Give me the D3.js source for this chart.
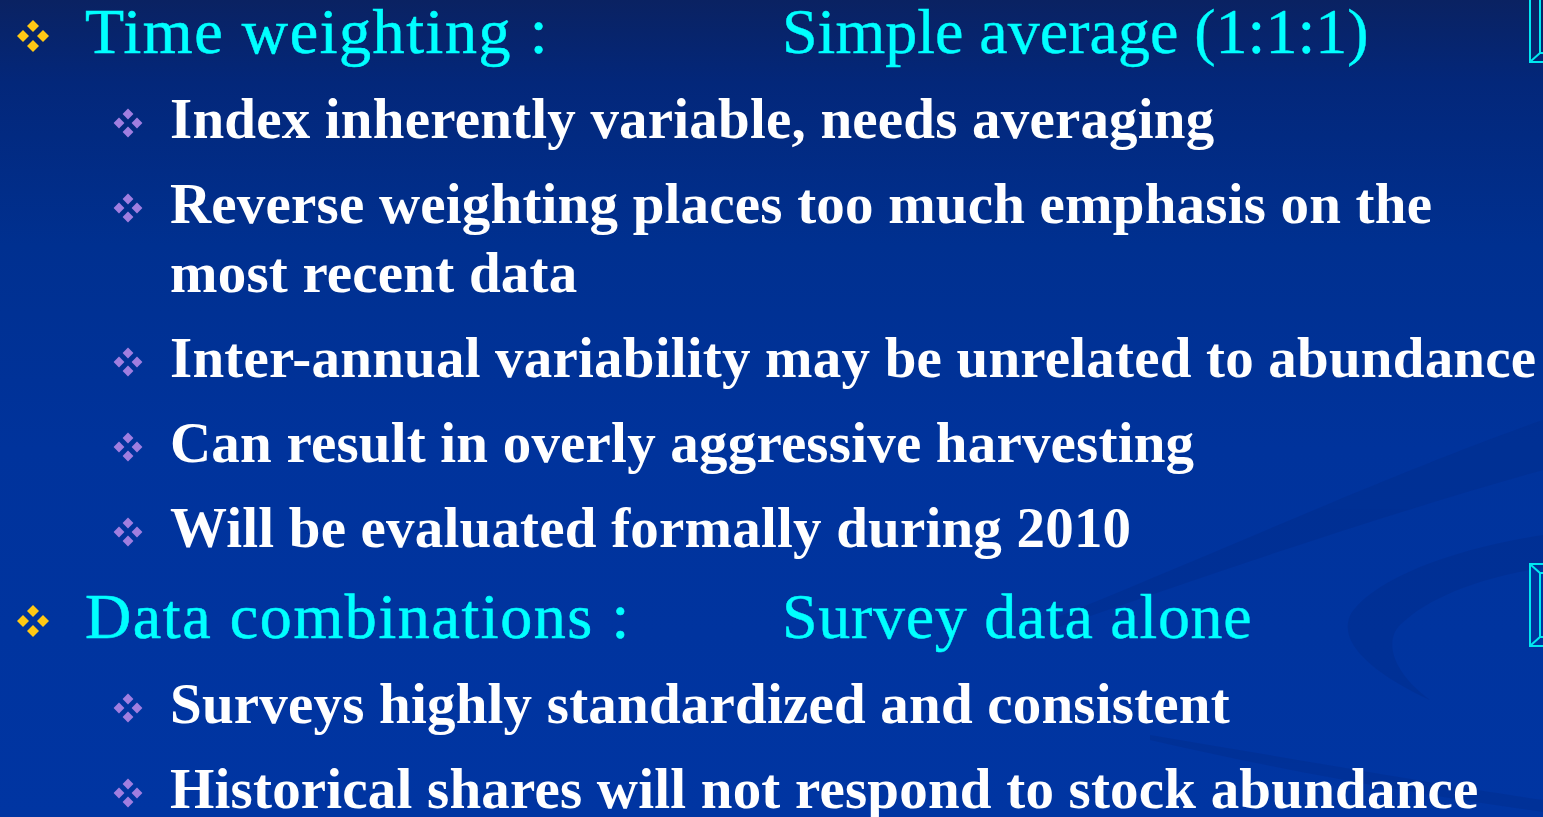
<!DOCTYPE html>
<html><head><meta charset="utf-8">
<script src="https://cdn.jsdelivr.net/npm/d3@7"></script>
<style>html,body{margin:0;padding:0;background:#0033a0;overflow:hidden}</style>
</head><body>
<script>
// ---- content ----
const levels = [1, 2, 2, 0, 2, 2, 2, 1, 2, 2];          // 0 = continuation line
const lineTexts = [
  "Time weighting :",
  "Index inherently variable, needs averaging",
  "Reverse weighting places too much emphasis on the",
  "most recent data",
  "Inter-annual variability may be unrelated to abundance",
  "Can result in overly aggressive harvesting",
  "Will be evaluated formally during 2010",
  "Data combinations :",
  "Surveys highly standardized and consistent",
  "Historical shares will not respond to stock abundance"
];
const headingValues = ["Simple average (1:1:1)", "", "", "", "", "", "", "Survey data alone", "", ""];

const W = 1543, H = 817;
const svg = d3.select("body").append("svg").attr("width", W).attr("height", H);
const defs = svg.append("defs");
const grad = defs.append("linearGradient").attr("id", "bg").attr("x1", 0).attr("y1", 0).attr("x2", 0).attr("y2", 1);
[[0, "#0a2262"], [0.1, "#03277a"], [0.3, "#003090"], [0.55, "#00339c"], [1, "#0035a2"]]
  .forEach(([o, c]) => grad.append("stop").attr("offset", o).attr("stop-color", c));
svg.append("rect").attr("width", W).attr("height", H).attr("fill", "url(#bg)");

// background swooshes
const sw = svg.append("g").attr("fill", "#002a86").attr("opacity", 0.35);
sw.append("path").attr("d", "M1050,620 C1200,560 1400,470 1543,420 L1543,470 C1400,510 1220,570 1050,630 Z");
sw.append("path").attr("d", "M1543,535 C1460,548 1380,575 1352,612 C1335,640 1370,672 1430,700 C1390,670 1385,640 1400,625 C1430,595 1490,575 1543,568 Z");
sw.append("path").attr("d", "M1150,735 C1300,760 1440,785 1543,800 L1543,812 C1420,795 1280,770 1150,740 Z");

// right-edge bevelled frames
const fr = svg.append("g").attr("fill", "none").attr("stroke", "#00e8f0").attr("stroke-width", 2);
fr.append("path").attr("d", "M1530,0 V62 H1545 M1540,0 V53 H1545 M1531,61 L1540,53");
fr.append("path").attr("d", "M1545,564 H1530 V646 H1545 M1545,573 H1540 V637 H1545 M1531,565 L1540,573 M1531,645 L1540,637");

// layout
const xL = d3.scaleOrdinal().domain([0, 1, 2]).range([170, 85, 170]);
const xBullet = d3.scaleOrdinal().domain([1, 2]).range([33, 128]);
const gap = d3.scaleOrdinal().domain([0, 1, 2]).range([69, 91, 85]);
const ys = [];
levels.forEach((lv, i) => ys.push(i === 0 ? 53 : ys[i - 1] + gap(lv)));

const bulletColor = d3.scaleOrdinal().domain([1, 2]).range(["#ffc814", "#a07ee0"]);
const bulletSize = d3.scaleOrdinal().domain([1, 2]).range([10, 9]);

function diamondCluster(g, cx, cy, s, col) {
  const r = s * 0.6;
  [[0, -s], [s, 0], [0, s], [-s, 0]].forEach(([dx, dy]) => {
    g.append("path")
      .attr("d", `M${cx + dx},${cy + dy - r} L${cx + dx + r},${cy + dy} L${cx + dx},${cy + dy + r} L${cx + dx - r},${cy + dy} Z`)
      .attr("fill", col);
  });
}

const FONT = "'Liberation Serif','Times New Roman',serif";
const g = svg.append("g");
levels.forEach((lv, i) => {
  const y = ys[i];
  if (lv > 0) diamondCluster(g, xBullet(lv), y - (lv === 1 ? 17 : 15), bulletSize(lv), bulletColor(lv));
  const t = g.append("text").attr("x", xL(lv)).attr("y", y).text(lineTexts[i]).attr("font-family", FONT);
  if (lv === 1) {
    t.attr("font-size", 64).attr("fill", "#00ffff").attr("letter-spacing", 1.6)
      .attr("stroke", "#00ffff").attr("stroke-width", 0.6);
    g.append("text").attr("x", 782).attr("y", y).text(headingValues[i])
      .attr("font-family", FONT).attr("font-size", 64).attr("fill", "#00ffff")
      .attr("stroke", "#00ffff").attr("stroke-width", 0.4)
      .attr("letter-spacing", i === 0 ? 0 : 0.7);
  } else {
    t.attr("font-size", 57).attr("font-weight", "bold").attr("fill", "#ffffff").attr("letter-spacing", 0.2);
  }
});
</script>
</body></html>
